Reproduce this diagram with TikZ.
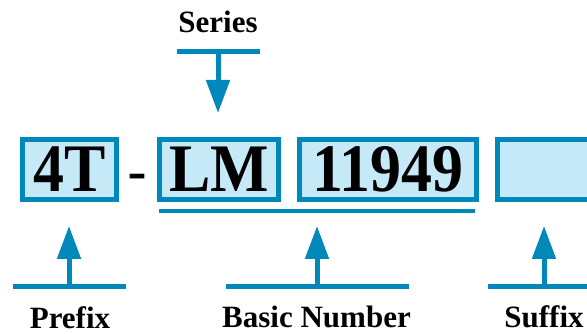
\documentclass[tikz,border=0pt]{standalone}
\usepackage{fontspec}
\setmainfont{Liberation Serif}
\newfontfamily\boxfont{Liberation Serif}[FakeStretch=0.91]
\newfontfamily\dashfont{Liberation Sans}
\usetikzlibrary{arrows.meta}
\definecolor{pnblue}{HTML}{0088BB}
\definecolor{pnfill}{HTML}{C6E9F8}
\begin{document}
\begin{tikzpicture}[x=1pt,y=-1pt,
  pnbox/.style={draw=pnblue,fill=pnfill,line width=5pt,inner sep=0pt,
    minimum height=60pt,text height=45pt,text depth=0pt,
    font=\boxfont\bfseries\fontsize{68}{68}\selectfont},
  bar/.style={draw=pnblue,line width=5pt},
  stem/.style={draw=pnblue,line width=5pt,
    -{Triangle[width=23pt,length=33pt]}},
  lbl/.style={anchor=base,inner sep=0pt,
    font=\bfseries\fontsize{31}{31}\selectfont}]
\useasboundingbox (0,0) rectangle (587,334);
% boxes
\node[pnbox,minimum width=94pt] (pre) at (69.5,169.5) {4T};
\node[anchor=base,inner sep=0pt,font=\dashfont\fontsize{60}{60}\selectfont] (dash) at (137.5,193) {-};
\node[pnbox,minimum width=119pt] (ser) at (219,169.5) {LM};
\node[pnbox,minimum width=177pt] (num) at (388,169.5) {11949};
\node[pnbox,minimum width=120pt] (suf) at (557.5,169.5) {};
% underline of basic number
\coordinate (ulA) at (159,211);
\coordinate (ulB) at (475,211);
\draw[draw=pnblue,line width=4pt] (ulA) -- (ulB);
% series
\node[lbl] (tser) at (218,33) {Series};
\coordinate (sbA) at (177,52);
\coordinate (sbB) at (260,52);
\coordinate (sbM) at (218,52);
\coordinate (sbT) at (218,113);
\draw[bar] (sbA) -- (sbB);
\draw[stem] (sbM) -- (sbT);
% prefix
\coordinate (pbA) at (13,286);
\coordinate (pbB) at (126,286);
\coordinate (pbM) at (69,286);
\coordinate (pbT) at (69,226);
\draw[bar] (pbA) -- (pbB);
\draw[stem] (pbM) -- (pbT);
\node[lbl] (tpre) at (70,328) {Prefix};
% basic number
\coordinate (bbA) at (226,286);
\coordinate (bbB) at (409,286);
\coordinate (bbM) at (317,286);
\coordinate (bbT) at (317,226);
\draw[bar] (bbA) -- (bbB);
\draw[stem] (bbM) -- (bbT);
\node[lbl] (tnum) at (316.5,327.5) {Basic Number};
% suffix
\coordinate (fbA) at (488,286);
\coordinate (fbB) at (600,286);
\coordinate (fbM) at (544,286);
\coordinate (fbT) at (544,226);
\draw[bar] (fbA) -- (fbB);
\draw[stem] (fbM) -- (fbT);
\node[lbl] (tsuf) at (544,327.5) {Suffix};
\end{tikzpicture}
\end{document}
